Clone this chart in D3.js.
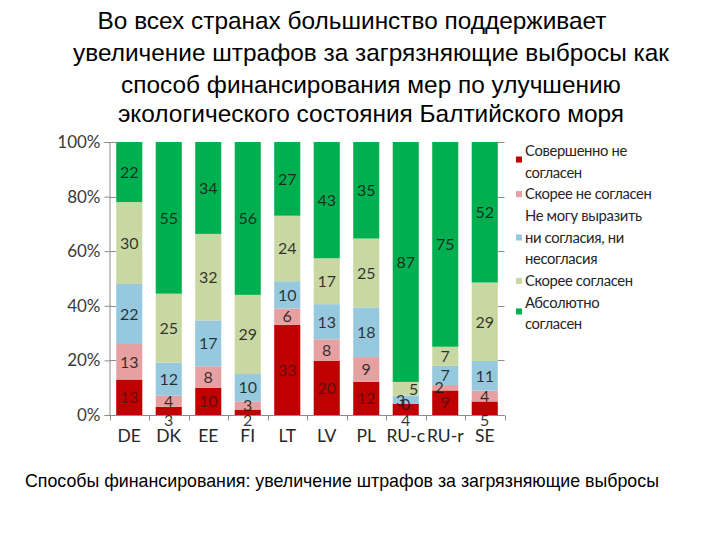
<!DOCTYPE html>
<html>
<head>
<meta charset="utf-8">
<script src="https://cdn.jsdelivr.net/npm/d3@7"></script>
<style>
  body { margin: 0; background: #fff; }
  svg { display: block; }
</style>
</head>
<body>
<svg id="chart" width="720" height="540"></svg>
<script>
// ---- data ----
const categories = ["DE", "DK", "EE", "FI", "LT", "LV", "PL", "RU-c", "RU-r", "SE"];
const seriesNames = [
  ["Совершенно не", "согласен"],
  ["Скорее не согласен"],
  ["Не могу выразить", "ни согласия, ни", "несогласия"],
  ["Скорее согласен"],
  ["Абсолютно", "согласен"]
];
const stronglyDisagree = [13, 3, 10, 2, 33, 20, 12, 4, 9, 5];
const ratherDisagree   = [13, 4, 8, 3, 6, 8, 9, 0, 2, 4];
const neutral          = [22, 12, 17, 10, 10, 13, 18, 3, 7, 11];
const ratherAgree      = [30, 25, 32, 29, 24, 17, 25, 5, 7, 29];
const stronglyAgree    = [22, 55, 34, 56, 27, 43, 35, 87, 75, 52];
const seriesColors = ["#C00000", "#E6A0A1", "#96C8DE", "#C9D8A3", "#00B050"];
const yTicks = [0, 0.2, 0.4, 0.6, 0.8, 1.0];
const titleLines = [
  "Во всех странах большинство поддерживает",
  "увеличение штрафов за загрязняющие выбросы как",
  "способ финансирования мер по улучшению",
  "экологического состояния Балтийского моря"
];
const footnote = "Способы финансирования: увеличение штрафов за загрязняющие выбросы";

// ---- build ----
const seriesValues = [stronglyDisagree, ratherDisagree, neutral, ratherAgree, stronglyAgree];
const keys = seriesValues.map((_, i) => "s" + i);
const table = categories.map((c, j) => {
  const row = { cat: c };
  const total = d3.sum(seriesValues, s => s[j]);
  keys.forEach((k, i) => { row[k] = seriesValues[i][j] / total; row["v" + i] = seriesValues[i][j]; });
  return row;
});
const stacked = d3.stack().keys(keys)(table);

const svg = d3.select("#chart");
const font = "Lato, 'Liberation Sans', sans-serif";
const titleFont = "'Liberation Sans', Arial, sans-serif";

const x = d3.scaleBand().domain(categories).range([109.5, 504.5]).paddingInner(0.34).paddingOuter(0.17);
const y = d3.scaleLinear().domain([0, 1]).range([415, 142]);

// Title
const titleX = [352, 371, 371, 371];
const titleY = [29, 61, 93, 122];
svg.append("g").selectAll("text").data(titleLines).join("text")
  .attr("x", (d, i) => titleX[i]).attr("y", (d, i) => titleY[i])
  .attr("text-anchor", "middle")
  .attr("font-family", titleFont).attr("font-size", 24.4)
  .attr("fill", "#000")
  .text(d => d);

// partial gridlines (visible only at plot edges)
const first = x(categories[0]);
const lastEnd = x(categories[categories.length - 1]) + x.bandwidth();
const grid = svg.append("g");
yTicks.forEach(t => {
  grid.append("line").attr("x1", 109.5).attr("x2", first).attr("y1", Math.round(y(t)) + 0.5).attr("y2", Math.round(y(t)) + 0.5)
    .attr("stroke", "#8c8c8c");
  grid.append("line").attr("x1", lastEnd).attr("x2", 504.5).attr("y1", Math.round(y(t)) + 0.5).attr("y2", Math.round(y(t)) + 0.5)
    .attr("stroke", "#8c8c8c");
});

// bars
svg.append("g").selectAll("g").data(stacked).join("g")
  .attr("fill", (d, i) => seriesColors[i])
  .selectAll("rect").data(d => d).join("rect")
  .attr("x", d => x(d.data.cat))
  .attr("width", x.bandwidth())
  .attr("y", d => y(d[1]))
  .attr("height", d => y(d[0]) - y(d[1]));

// Y axis
const yAxis = svg.append("g").attr("transform", "translate(109.5,0)")
  .call(d3.axisLeft(y).tickValues(yTicks).tickFormat(d3.format(".0%")).tickSize(5).tickPadding(4));
yAxis.select(".domain").attr("stroke", "#8c8c8c");
yAxis.selectAll(".tick line").attr("stroke", "#8c8c8c");
yAxis.selectAll(".tick text").attr("font-family", font).attr("font-size", 17).attr("fill", "#3a3a3a");

// X axis
const xAxis = svg.append("g").attr("transform", "translate(0,415.5)");
xAxis.append("line").attr("x1", 109.5).attr("x2", 504.5).attr("stroke", "#8c8c8c");
const boundaries = categories.map(c => x(c) - x.step() * x.paddingInner() / 2).concat([504.5]);
boundaries[0] = 109.5;
xAxis.selectAll("line.tk").data(boundaries).join("line").attr("class", "tk")
  .attr("x1", d => Math.round(d) + 0.5).attr("x2", d => Math.round(d) + 0.5).attr("y1", 0).attr("y2", 5)
  .attr("stroke", "#8c8c8c");
xAxis.selectAll("text").data(categories).join("text")
  .attr("x", d => x(d) + x.bandwidth() / 2).attr("y", 26)
  .attr("text-anchor", "middle").attr("font-family", font).attr("font-size", 17.5).attr("fill", "#262626")
  .text(d => d);

// data labels
const labels = svg.append("g");
stacked.forEach((s, i) => {
  s.forEach(d => {
    const v = d.data["v" + i];
    let cy = (y(d[0]) + y(d[1])) / 2;
    let dx = 0;
    if (i === 0 && v < 6) cy = 420;              // tiny bottom segments: label pushed below axis
    if (i === 1 && v > 0 && v < 3) dx = -6;      // tiny segments nudged sideways
    if (i === 2 && v < 6) dx = -5;
    if (i === 3 && v < 6) dx = 8;
    labels.append("text")
      .attr("x", x(d.data.cat) + x.bandwidth() / 2 + dx)
      .attr("y", cy)
      .attr("dy", "0.36em")
      .attr("text-anchor", "middle")
      .attr("font-family", font).attr("font-size", 16)
      .attr("fill", "#1a1a1a").attr("fill-opacity", (i === 0 && cy < 418) ? 0.6 : 0.88)
      .text(v);
  });
});

// legend
const lineH = 21.7;
let ly = 150.7;
const legend = svg.append("g");
seriesNames.forEach((lines, i) => {
  const blockMid = ly + (lines.length - 1) * lineH / 2;
  const my = lines.length === 1 ? ly : (lines.length === 2 ? blockMid - 2 : blockMid);
  legend.append("rect").attr("x", 516).attr("y", my - 3).attr("width", 6).attr("height", 6)
    .attr("fill", seriesColors[i]);
  lines.forEach((t, k) => {
    legend.append("text").attr("x", 525).attr("y", ly + k * lineH).attr("dy", "0.35em")
      .attr("font-family", font).attr("font-size", 14.8).attr("letter-spacing", "-0.35px")
      .attr("fill", "#262626").text(t);
  });
  ly += lines.length * lineH;
});

// footnote
svg.append("text").attr("x", 25).attr("y", 487)
  .attr("font-family", titleFont).attr("font-size", 17.8).attr("fill", "#000")
  .text(footnote);
</script>
</body>
</html>
